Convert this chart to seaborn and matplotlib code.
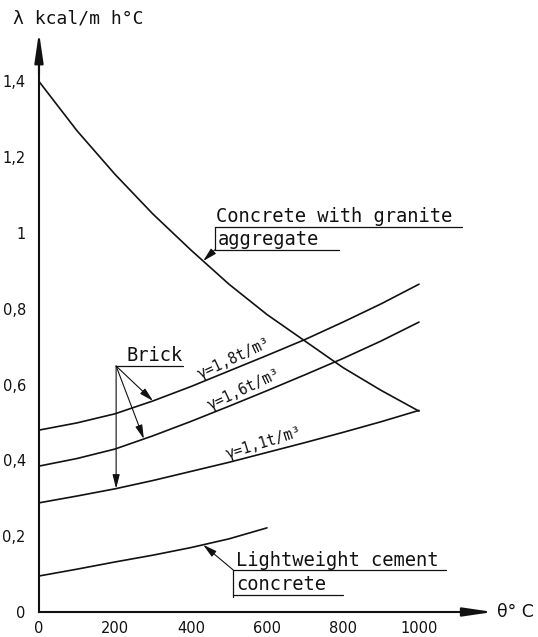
import numpy as np
import pandas as pd
import matplotlib
matplotlib.use("Agg")
import matplotlib.pyplot as plt
import seaborn as sns

# Thermal conductivity λ (kcal/m h °C) against temperature θ (°C)
temps = [0, 100, 200, 300, 400, 500, 600, 700, 800, 900, 1000]
granite = [1.40, 1.27, 1.155, 1.05, 0.955, 0.865, 0.785, 0.715, 0.645, 0.585, 0.53]
brick_18 = [0.48, 0.499, 0.523, 0.557, 0.595, 0.636, 0.677, 0.719, 0.765, 0.813, 0.865]
brick_16 = [0.385, 0.405, 0.43, 0.465, 0.503, 0.543, 0.584, 0.626, 0.669, 0.715, 0.765]
brick_11 = [0.288, 0.306, 0.325, 0.347, 0.371, 0.395, 0.421, 0.447, 0.474, 0.502, 0.532]
light_temps = [0, 100, 200, 300, 400, 500, 600]
lightweight = [0.095, 0.113, 0.132, 0.150, 0.170, 0.193, 0.222]

x_ticks = [0, 200, 400, 600, 800, 1000]
x_tick_labels = ["0", "200", "400", "600", "800", "1000"]
y_ticks = [0, 0.2, 0.4, 0.6, 0.8, 1.0, 1.2, 1.4]
y_tick_labels = ["0", "0,2", "0,4", "0,6", "0,8", "1", "1,2", "1,4"]

sns.set_theme(style="white")
plt.rcParams["font.family"] = ["DejaVu Sans Mono", "DejaVu Sans"]

fig = plt.figure(figsize=(5.38, 6.37), dpi=100)
ax = fig.add_axes([0, 0, 1, 1])
ax.set_facecolor("white")
ax.set_xlim(-102.6, 1313.2)
ax.set_ylim(-0.066, 1.615)

ink = "#111111"
curve_kw = dict(color=ink, linewidth=1.2, legend=False, ax=ax)

frames = []
for name, xs, ys in [("granite", temps, granite), ("b18", temps, brick_18),
                     ("b16", temps, brick_16), ("b11", temps, brick_11),
                     ("light", light_temps, lightweight)]:
    frames.append(pd.DataFrame({"theta": xs, "lam": ys, "series": name}))
data = pd.concat(frames, ignore_index=True)
for name, grp in data.groupby("series", sort=False):
    sns.lineplot(data=grp, x="theta", y="lam", **curve_kw)

# axes drawn through the origin, with arrow heads
for side in ["top", "right"]:
    ax.spines[side].set_visible(False)
ax.spines["left"].set_position(("data", 0))
ax.spines["bottom"].set_position(("data", 0))
ax.spines["left"].set_bounds(0, 1.47)
ax.spines["bottom"].set_bounds(0, 1150)
for side in ["left", "bottom"]:
    ax.spines[side].set_color(ink)
    ax.spines[side].set_linewidth(1.5)
arrow_kw = dict(arrowstyle="-|>,head_length=1.5,head_width=0.22", color=ink,
                lw=1.5, shrinkA=0, shrinkB=0)
ax.annotate("", xy=(0, 1.53), xytext=(0, 1.42), arrowprops=arrow_kw)
ax.annotate("", xy=(1195, 0), xytext=(1120, 0), arrowprops=arrow_kw)

ax.set_xticks(x_ticks, x_tick_labels)
ax.set_yticks(y_ticks, y_tick_labels)
ax.set_xticks([t for t in range(100, 1200, 100) if t not in x_ticks], minor=True)
ax.set_yticks([round(v, 1) for v in np.arange(0.1, 1.35, 0.1)
               if round(v, 1) not in [round(t, 1) for t in y_ticks]], minor=True)
ax.tick_params(which="both", direction="inout", length=7, width=1.0, color=ink,
               labelcolor=ink, labelsize=10.5)
ax.tick_params(axis="y", which="major", pad=6)
ax.tick_params(axis="x", which="major", pad=3)
for lab in ax.get_xticklabels() + ax.get_yticklabels():
    lab.set_family(["DejaVu Sans"])
ax.set_xlabel("")
ax.set_ylabel("")
ax.grid(False)

ax.text(-68, 1.567, "λ kcal/m h°C", fontsize=13, color=ink, ha="left", va="center")
ax.text(1205, 0.0, "θ° C", fontsize=12.5, color=ink, ha="left", va="center",
        family=["DejaVu Sans"])

label_size = 13.5
thin = dict(color=ink, lw=0.9)
head_kw = dict(arrowstyle="-|>,head_length=0.7,head_width=0.18", color=ink, lw=0.8,
               shrinkA=0, shrinkB=0)

# Concrete with granite aggregate
ax.text(466, 1.028, "Concrete with granite", fontsize=label_size, color=ink,
        ha="left", va="baseline")
ax.plot([463, 1113], [1.016, 1.016], **thin)
ax.text(470, 0.968, "aggregate", fontsize=label_size, color=ink, ha="left", va="baseline")
ax.plot([463, 790], [0.956, 0.956], **thin)
ax.plot([463, 463], [1.016, 0.956], **thin)
ax.annotate("", xy=(432, np.interp(432, temps, granite)), xytext=(463, 0.956),
            arrowprops=head_kw)

# Brick leaders
ax.text(230, 0.662, "Brick", fontsize=label_size, color=ink, ha="left", va="baseline")
ax.plot([203, 380], [0.649, 0.649], **thin)
for tx, ys in [(300, brick_18), (276, brick_16), (203, brick_11)]:
    ax.annotate("", xy=(tx, np.interp(tx, temps, ys)), xytext=(203, 0.649),
                arrowprops=head_kw)

# Lightweight cement concrete
ax.text(518, 0.122, "Lightweight cement", fontsize=label_size, color=ink,
        ha="left", va="baseline")
ax.plot([511, 1070], [0.111, 0.111], **thin)
ax.text(518, 0.058, "concrete", fontsize=label_size, color=ink, ha="left", va="baseline")
ax.plot([511, 800], [0.046, 0.046], **thin)
ax.plot([511, 511], [0.111, 0.040], **thin)
ax.annotate("", xy=(432, np.interp(432, light_temps, lightweight)), xytext=(511, 0.111),
            arrowprops=head_kw)

# density labels along the brick curves
fig.canvas.draw()
for at, ys, txt in [(525, brick_18, "γ=1,8t/m³"), (552, brick_16, "γ=1,6t/m³"),
                    (600, brick_11, "γ=1,1t/m³")]:
    p1 = ax.transData.transform((at - 50, np.interp(at - 50, temps, ys)))
    p2 = ax.transData.transform((at + 50, np.interp(at + 50, temps, ys)))
    ang = np.degrees(np.arctan2(p2[1] - p1[1], p2[0] - p1[0])) + 3
    off = 1.5
    ax.annotate(txt, xy=(at, np.interp(at, temps, ys)),
                xytext=(-np.sin(np.radians(ang)) * off, np.cos(np.radians(ang)) * off),
                textcoords="offset points", rotation=ang, rotation_mode="anchor",
                ha="center", va="bottom", fontsize=10.5, color=ink)

fig.savefig("out.png", dpi=100, facecolor="white")
